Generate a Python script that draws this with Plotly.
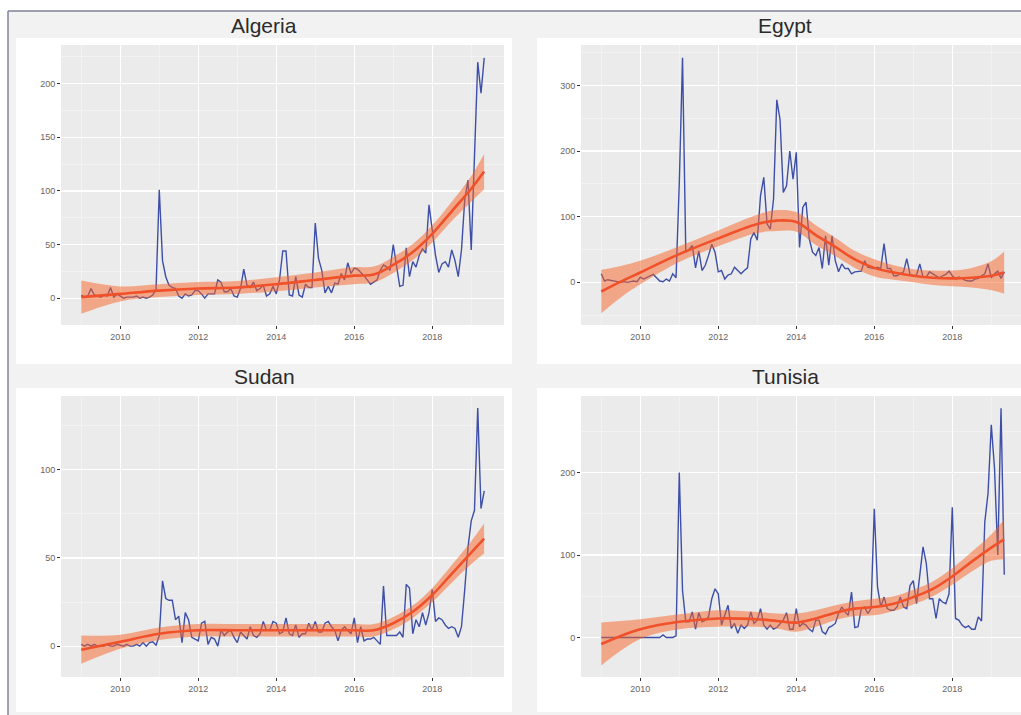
import numpy as np
import plotly.graph_objects as go

# ---------------- data (monthly, Jan 2009 - May 2019) ----------------
months = 2009 + np.arange(125) / 12.0

algeria = ([3, 1, 2, 9, 3, 2, 1, 3, 2, 10, 1, 4] +
           [2, 0, 1, 1, 1, 2, 0, 1, 0, 1, 3, 8] +
           [101, 35, 20, 12, 10, 9, 2, 0, 4, 2, 3, 7] +
           [7, 4, 0, 4, 4, 4, 17, 15, 6, 6, 9, 2] +
           [1, 9, 27, 12, 10, 15, 7, 9, 12, 2, 4, 11] +
           [4, 17, 44, 44, 3, 2, 20, 3, 1, 13, 10, 10] +
           [70, 37, 26, 5, 11, 5, 14, 13, 23, 17, 33, 23] +
           [28, 27, 24, 21, 17, 13, 15, 17, 26, 31, 29, 26] +
           [50, 32, 11, 12, 47, 20, 34, 29, 40, 46, 42, 87] +
           [62, 40, 24, 32, 34, 29, 45, 35, 20, 45, 92, 110] +
           [45, 130, 220, 191, 224])

egypt = ([13, 2, 4, 3, 1, 0, 0, 1, 0, 1, 2, 1] +
         [8, 5, 7, 10, 12, 7, 2, 1, 5, 2, 13, 7] +
         [150, 342, 46, 50, 56, 22, 48, 18, 26, 41, 58, 46] +
         [16, 18, 5, 11, 13, 23, 18, 13, 18, 22, 66, 76] +
         [64, 132, 160, 89, 81, 127, 278, 248, 137, 147, 200, 157] +
         [198, 53, 114, 122, 66, 46, 41, 53, 21, 71, 26, 71] +
         [33, 16, 28, 21, 21, 13, 16, 16, 17, 33, 23, 22] +
         [21, 23, 21, 59, 21, 21, 10, 10, 13, 16, 36, 12] +
         [10, 11, 28, 8, 8, 16, 13, 10, 7, 10, 12, 17] +
         [10, 5, 8, 6, 3, 2, 2, 5, 6, 10, 13, 28] +
         [7, 13, 17, 6, 16])

sudan = ([1, 0, 1, 0, 1, 0, 0, 0, 1, 0, 0, 1] +
         [0.5, 0, 1, 0, 0, 1, 0, 2, 0, 2, 2.5, 0.5] +
         [6, 37, 27, 26, 26, 15, 17, 2, 19, 15, 5, 4] +
         [3, 13, 14, 1, 5, 4, 0, 9, 6, 8, 9, 5] +
         [2, 8, 6, 4, 11, 6, 5, 7, 14, 9, 9, 14] +
         [13, 7, 8, 16, 7, 6, 12, 5, 7, 7, 13, 9] +
         [14, 8, 8, 13, 14, 11, 9, 3, 9, 11, 9, 7] +
         [16, 2, 11, 3, 4, 4, 5, 3, 1, 34, 6, 6] +
         [6, 6, 8, 5, 35, 33, 7, 15, 11, 19, 12, 19] +
         [32, 14, 16, 15, 12, 10, 11, 10, 5, 11, 32, 56] +
         [71, 77, 135, 78, 88])

tunisia = ([0, 0, 0, 0, 0, 0, 0, 0, 0, 0, 0, 0] +
           [0, 0, 0, 0, 0, 0, 0, 3, 0, 0, 0, 2] +
           [200, 57, 19, 19, 31, 10, 30, 19, 21, 25, 47, 59] +
           [53, 15, 27, 39, 11, 17, 5, 15, 11, 15, 31, 17] +
           [21, 35, 15, 10, 15, 10, 12, 17, 21, 30, 10, 10] +
           [35, 13, 17, 15, 10, 7, 21, 21, 7, 4, 12, 14] +
           [17, 29, 37, 31, 27, 55, 12, 13, 35, 37, 29, 35] +
           [156, 61, 37, 49, 35, 33, 33, 37, 49, 37, 35, 63] +
           [69, 41, 78, 110, 90, 47, 47, 23, 47, 43, 41, 53] +
           [158, 23, 21, 15, 12, 14, 10, 10, 25, 20, 140, 175] +
           [258, 205, 100, 278, 76])

# smoothed trend and half-width of its confidence band
alg_sx = [2009, 2010, 2011, 2012, 2013, 2014, 2015, 2016, 2016.5, 2017, 2017.5, 2018, 2018.5, 2019, 2019.33]
alg_sy = [1, 4, 7, 9, 10, 13, 17, 21, 22, 31, 43, 60, 81, 102, 118]
alg_sw = [15.5, 7, 6, 6, 6, 6.5, 7, 8, 7.5, 7.5, 7.5, 8, 9, 12, 16.5]

egy_sx = [2009, 2009.5, 2010, 2011, 2012, 2013, 2013.5, 2014, 2014.5, 2015, 2015.5, 2016, 2016.5, 2017, 2017.5, 2018, 2018.5, 2019, 2019.33]
egy_sy = [-14, 1, 15, 43, 67, 89, 94, 92, 72, 54, 35, 22, 15, 10, 7, 6, 7, 10, 15]
egy_sw = [33, 24, 18, 12, 12, 14, 16, 15, 15, 14, 13, 13, 11, 10, 11, 12, 15, 22, 32]

sud_sx = [2009, 2010, 2011, 2012, 2013, 2014, 2015, 2016, 2016.5, 2017, 2017.5, 2018, 2018.5, 2019, 2019.33]
sud_sy = [-2, 2.5, 7, 9, 9, 9, 9, 9, 9, 13, 19.5, 29, 41, 53, 61]
sud_sw = [8, 4, 3.5, 3.5, 3.5, 3.5, 3.5, 3.5, 3.5, 3.5, 3.5, 4, 5, 6.5, 8.5]

tun_sx = [2009, 2010, 2011, 2012, 2013, 2013.5, 2014, 2014.5, 2015, 2015.5, 2016, 2016.5, 2017, 2017.5, 2018, 2018.5, 2019, 2019.33]
tun_sy = [-8, 10, 19, 23, 22, 20, 18, 23, 30, 35, 37, 41, 49, 59, 74, 92, 109, 119]
tun_sw = [26, 12, 9, 10, 9, 9, 11, 10, 9, 9, 10, 9, 9, 9, 10, 12, 16, 24]

countries = ["Algeria", "Egypt", "Sudan", "Tunisia"]
series = [algeria, egypt, sudan, tunisia]
smooths = [(alg_sx, alg_sy, alg_sw), (egy_sx, egy_sy, egy_sw),
           (sud_sx, sud_sy, sud_sw), (tun_sx, tun_sy, tun_sw)]
year_ticks = [2010, 2012, 2014, 2016, 2018]

# ---------------- layout geometry (pixels) ----------------
W, H = 1021, 715
def px(x): return x / W
def py(y): return 1 - y / H

plot_boxes = [  # x0, x1, y0(top), y1(bottom)
    (61, 504, 45, 325),
    (581, 1021, 45, 325),
    (61, 504, 396, 677),
    (581, 1021, 396, 677),
]
card_boxes = [
    (16, 512, 38, 364),
    (537, 1030, 38, 364),
    (16, 512, 388, 712),
    (537, 1030, 388, 712),
]
title_pos = [(264, 25), (785, 25), (264, 377), (785, 377)]
x_ranges = [[2008.48, 2019.84], [2008.48, 2008.48 + (1021 - 581) / 39.0],
            [2008.48, 2019.84], [2008.48, 2008.48 + (1021 - 581) / 39.0]]
y_ranges = [[-25, 236], [-65, 361.5], [-17.5, 141.8], [-48, 293]]
y_dticks = [50, 100, 50, 100]

BLUE = "#3E4FA8"
RED = "#F0502A"
BAND = "rgba(248,100,35,0.5)"
PANEL = "#EBEBEB"

fig = go.Figure()
shapes = []
# outer light-grey background with frame
shapes.append(dict(type="rect", xref="paper", yref="paper", x0=px(8), x1=1, y0=0, y1=py(11),
                   fillcolor="#F2F2F2", line_width=0, layer="below"))
shapes.append(dict(type="line", xref="paper", yref="paper", x0=px(8), x1=1, y0=py(11), y1=py(11),
                   line=dict(color="#80809C", width=1.5), layer="below"))
shapes.append(dict(type="line", xref="paper", yref="paper", x0=px(8), x1=px(8), y0=0, y1=py(11),
                   line=dict(color="#80809C", width=1.5), layer="below"))
for (cx0, cx1, cy0, cy1) in card_boxes:
    shapes.append(dict(type="rect", xref="paper", yref="paper", x0=px(cx0), x1=min(1, px(cx1)),
                       y0=py(cy1), y1=py(cy0), fillcolor="white", line_width=0, layer="below"))
for (bx0, bx1, by0, by1) in plot_boxes:
    shapes.append(dict(type="rect", xref="paper", yref="paper", x0=px(bx0), x1=px(bx1),
                       y0=py(by1), y1=py(by0), fillcolor=PANEL, line_width=0, layer="below"))

annotations = []
for i, name in enumerate(countries):
    k = "" if i == 0 else str(i + 1)
    xa, ya = "x" + k, "y" + k
    sx, sy, sw = smooths[i]
    upper = [a + b for a, b in zip(sy, sw)]
    lower = [a - b for a, b in zip(sy, sw)]
    fig.add_trace(go.Scatter(x=months, y=series[i], mode="lines",
                             line=dict(color=BLUE, width=1.4), xaxis=xa, yaxis=ya,
                             showlegend=False, hoverinfo="skip"))
    fig.add_trace(go.Scatter(x=sx, y=upper, mode="lines", line=dict(width=0, shape="spline"),
                             xaxis=xa, yaxis=ya, showlegend=False, hoverinfo="skip"))
    fig.add_trace(go.Scatter(x=sx, y=lower, mode="lines", line=dict(width=0, shape="spline"),
                             fill="tonexty", fillcolor=BAND,
                             xaxis=xa, yaxis=ya, showlegend=False, hoverinfo="skip"))
    fig.add_trace(go.Scatter(x=sx, y=sy, mode="lines", line=dict(color=RED, width=2.6, shape="spline"),
                             xaxis=xa, yaxis=ya, showlegend=False, hoverinfo="skip"))

    bx0, bx1, by0, by1 = plot_boxes[i]
    axis_common = dict(showgrid=True, gridcolor="white", gridwidth=1.2, zeroline=False,
                       showline=False, ticks="outside", ticklen=3, tickwidth=1,
                       tickcolor="#333333", tickfont=dict(family="Liberation Sans", size=9, color="#666666"))
    fig.layout["xaxis" + k] = dict(domain=[px(bx0), px(bx1)], range=x_ranges[i], anchor=ya,
                                   tickmode="array", tickvals=year_ticks,
                                   ticktext=[str(t) for t in year_ticks],
                                   minor=dict(tickmode="array", tickvals=[2009, 2011, 2013, 2015, 2017, 2019],
                                              showgrid=True, gridcolor="#F7F7F7", gridwidth=0.6, ticks=""),
                                   **axis_common)
    d = y_dticks[i]
    fig.layout["yaxis" + k] = dict(domain=[py(by1), py(by0)], range=y_ranges[i], anchor=xa,
                                   tick0=0, dtick=d,
                                   minor=dict(tick0=d / 2, dtick=d, showgrid=True, gridcolor="#F7F7F7",
                                              gridwidth=0.6, ticks=""),
                                   **axis_common)
    tx, ty = title_pos[i]
    annotations.append(dict(text=name, xref="paper", yref="paper", x=px(tx), y=py(ty),
                            xanchor="center", yanchor="middle", showarrow=False,
                            font=dict(family="Liberation Sans", size=21, color="#2b2b2b")))

fig.update_layout(width=W, height=H, margin=dict(l=0, r=0, t=0, b=0),
                  paper_bgcolor="white", plot_bgcolor="rgba(0,0,0,0)",
                  shapes=shapes, annotations=annotations, showlegend=False)

# remove the browser's default 8px page margin so the figure sits at (0, 0)
fig.write_html("out.html", config={"displayModeBar": False, "staticPlot": True},
               post_script="document.body.style.margin='0px';document.body.style.overflow='hidden';")
